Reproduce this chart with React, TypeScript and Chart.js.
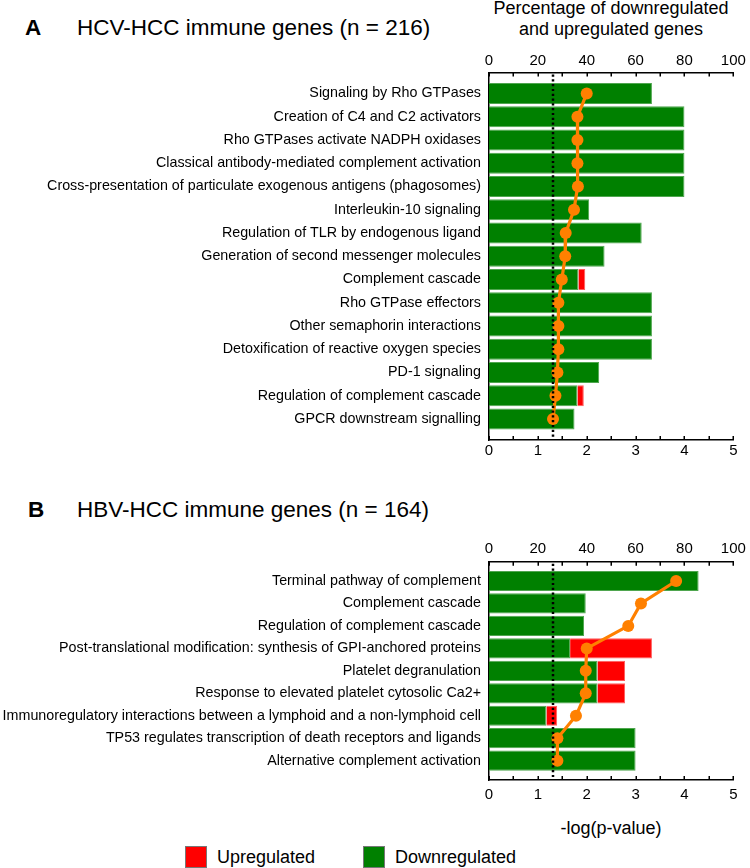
import React, { useEffect, useRef } from 'react';
import { Chart, registerables } from 'chart.js';

Chart.register(...registerables);

const FONT = '"Liberation Sans", Arial, Helvetica, sans-serif';
const GREEN = '#008000';
const GREEN_EDGE = '#4fa64f';
const RED = '#ff0000';
const RED_EDGE = '#ff5c5c';
const ORANGE = '#ff8000';

// Panel A: HCV-HCC immune genes
const hcvPathways = [
  'Signaling by Rho GTPases',
  'Creation of C4 and C2 activators',
  'Rho GTPases activate NADPH oxidases',
  'Classical antibody-mediated complement activation',
  'Cross-presentation of particulate exogenous antigens (phagosomes)',
  'Interleukin-10 signaling',
  'Regulation of TLR by endogenous ligand',
  'Generation of second messenger molecules',
  'Complement cascade',
  'Rho GTPase effectors',
  'Other semaphorin interactions',
  'Detoxification of reactive oxygen species',
  'PD-1 signaling',
  'Regulation of complement cascade',
  'GPCR downstream signalling',
];
const hcvDown = [66.7, 80, 80, 80, 80, 41.0, 62.5, 47.3, 36.6, 66.7, 66.7, 66.7, 45.1, 36.2, 35.0];
const hcvUp = [0, 0, 0, 0, 0, 0, 0, 0, 2.8, 0, 0, 0, 0, 2.6, 0];
const hcvLogP = [2.0, 1.81, 1.81, 1.81, 1.82, 1.74, 1.57, 1.56, 1.49, 1.42, 1.42, 1.42, 1.4, 1.36, 1.31];

// Panel B: HBV-HCC immune genes
const hbvPathways = [
  'Terminal pathway of complement',
  'Complement cascade',
  'Regulation of complement cascade',
  'Post-translational modification: synthesis of GPI-anchored proteins',
  'Platelet degranulation',
  'Response to elevated platelet cytosolic Ca2+',
  'Immunoregulatory interactions between a lymphoid and a non-lymphoid cell',
  'TP53 regulates transcription of death receptors and ligands',
  'Alternative complement activation',
];
const hbvDown = [85.8, 39.6, 38.9, 33.2, 44.4, 44.4, 23.5, 60, 60];
const hbvUp = [0, 0, 0, 33.5, 11.3, 11.3, 4.4, 0, 0];
const hbvLogP = [3.83, 3.11, 2.85, 2.0, 1.98, 1.98, 1.78, 1.4, 1.4];

const percentTickStep = 20;
const percentMinorStep = 10;
const logTickStep = 1;
const logMinorStep = 0.5;
const significanceLine = 1.3;

type PanelOpts = {
  labels: string[];
  down: number[];
  up: number[];
  logp: number[];
  yMin: number;
  yMax: number;
  topH: number;
  bottomH: number;
  topPad: number;
  bottomPad: number;
};

const decorPlugin = {
  id: 'decor',
  afterDatasetsDraw(chart: any) {
    const { ctx, chartArea, scales } = chart;
    const x = scales.x.getPixelForValue(significanceLine);
    ctx.save();
    ctx.strokeStyle = '#000';
    ctx.lineWidth = 2.5;
    ctx.setLineDash([2.2, 2.6]);
    ctx.beginPath();
    ctx.moveTo(Math.round(x), chartArea.top + 2);
    ctx.lineTo(Math.round(x), chartArea.bottom - 1);
    ctx.stroke();
    ctx.restore();
  },
  afterDraw(chart: any) {
    const { ctx, chartArea, scales } = chart;
    ctx.save();
    ctx.strokeStyle = '#000';
    ctx.lineWidth = 1.5;
    ctx.setLineDash([]);
    for (let v = 0; v <= 100.001; v += percentMinorStep) {
      const px = Math.round(scales.x2.getPixelForValue(v)) + 0.25;
      ctx.beginPath();
      ctx.moveTo(px, chartArea.top);
      ctx.lineTo(px, chartArea.top + 4);
      ctx.stroke();
    }
    for (let v = 0; v <= 5.0001; v += logMinorStep) {
      const px = Math.round(scales.x.getPixelForValue(v)) + 0.25;
      ctx.beginPath();
      ctx.moveTo(px, chartArea.bottom);
      ctx.lineTo(px, chartArea.bottom - 4);
      ctx.stroke();
    }
    ctx.restore();
  },
};

function makeConfig(o: PanelOpts): any {
  const downData = o.down.map((v, i) => ({ x: v, y: i }));
  const upData = o.up.map((v, i) => ({ x: v, y: i })).filter((d) => d.x > 0);
  const lineData = o.logp.map((v, i) => ({ x: v, y: i }));
  const tickFont = { family: FONT, size: 15 };
  return {
    type: 'bar',
    data: {
      datasets: [
        {
          type: 'line',
          label: '-log(p-value)',
          data: lineData,
          xAxisID: 'x',
          yAxisID: 'y',
          borderColor: ORANGE,
          backgroundColor: ORANGE,
          pointBackgroundColor: ORANGE,
          pointBorderColor: ORANGE,
          borderWidth: 3.2,
          pointRadius: 6,
          pointBorderWidth: 0,
          order: 0,
        },
        {
          type: 'bar',
          label: 'Downregulated',
          data: downData,
          xAxisID: 'x2',
          yAxisID: 'y',
          backgroundColor: GREEN,
          borderColor: GREEN_EDGE,
          borderWidth: 1,
          barPercentage: 0.9,
          categoryPercentage: 1,
          stack: 's',
          order: 1,
        },
        {
          type: 'bar',
          label: 'Upregulated',
          data: upData,
          xAxisID: 'x2',
          yAxisID: 'y',
          backgroundColor: RED,
          borderColor: RED_EDGE,
          borderWidth: 1,
          barPercentage: 0.9,
          categoryPercentage: 1,
          stack: 's',
          order: 1,
        },
      ],
    },
    options: {
      indexAxis: 'y',
      animation: false,
      responsive: true,
      maintainAspectRatio: false,
      devicePixelRatio: 1,
      layout: { padding: { left: 0, right: 16.7, top: 0, bottom: 0 } },
      plugins: { legend: { display: false }, tooltip: { enabled: false } },
      scales: {
        x: {
          type: 'linear',
          position: 'bottom',
          min: 0,
          max: 5,
          ticks: { stepSize: logTickStep, font: tickFont, color: '#000', padding: o.bottomPad },
          grid: { display: false, drawTicks: false },
          border: { display: true, color: '#000', width: 1.5 },
          afterFit: (s: any) => {
            s.height = o.bottomH;
          },
        },
        x2: {
          type: 'linear',
          position: 'top',
          min: 0,
          max: 100,
          stacked: true,
          ticks: { stepSize: percentTickStep, font: tickFont, color: '#000', padding: o.topPad },
          grid: { display: false, drawTicks: false },
          border: { display: true, color: '#000', width: 1.5 },
          afterFit: (s: any) => {
            s.height = o.topH;
          },
        },
        y: {
          type: 'linear',
          reverse: true,
          offset: false,
          min: o.yMin,
          max: o.yMax,
          stacked: true,
          afterBuildTicks: (s: any) => {
            s.ticks = o.labels.map((_, i) => ({ value: i }));
          },
          ticks: {
            autoSkip: false,
            font: { family: FONT, size: 14.3 },
            color: '#000',
            padding: 8,
            callback: (v: any) => o.labels[Math.round(Number(v))] ?? '',
          },
          grid: { display: false, drawTicks: false, offset: false },
          border: { display: true, color: '#000', width: 1.5 },
          afterFit: (s: any) => {
            s.width = 489;
          },
        },
      },
    },
    plugins: [decorPlugin],
  };
}

function Panel({ opts, top, height }: { opts: PanelOpts; top: number; height: number }) {
  const ref = useRef<HTMLCanvasElement>(null);
  useEffect(() => {
    const chart = new Chart(ref.current as HTMLCanvasElement, makeConfig(opts));
    return () => chart.destroy();
  }, []);
  return (
    <div style={{ position: 'absolute', left: 0, top, width: 750, height }}>
      <canvas ref={ref} />
    </div>
  );
}

const abs = (s: React.CSSProperties): React.CSSProperties => ({ position: 'absolute', whiteSpace: 'nowrap', ...s });

export default function App() {
  return (
    <div
      style={{
        position: 'absolute',
        left: 0,
        top: 0,
        width: 750,
        height: 868,
        background: '#fff',
        fontFamily: FONT,
        color: '#000',
        overflow: 'hidden',
      }}
    >
      <div style={abs({ left: 25, top: 17, fontSize: 22.5, lineHeight: '22px', fontWeight: 'bold' })}>A</div>
      <div style={abs({ left: 77, top: 17, fontSize: 22.5, lineHeight: '22px' })}>HCV-HCC immune genes (n = 216)</div>
      <div
        style={abs({
          left: 488.7,
          top: -2,
          width: 244.6,
          textAlign: 'center',
          fontSize: 18,
          lineHeight: '20.5px',
        })}
      >
        Percentage of downregulated
        <br />
        and upregulated genes
      </div>
      <Panel
        top={40}
        height={430}
        opts={{
          labels: hcvPathways,
          down: hcvDown,
          up: hcvUp,
          logp: hcvLogP,
          yMin: -0.9,
          yMax: 14.9,
          topH: 32.5,
          bottomH: 30,
          topPad: 3,
          bottomPad: 2,
        }}
      />
      <div style={abs({ left: 28, top: 499, fontSize: 22.5, lineHeight: '22px', fontWeight: 'bold' })}>B</div>
      <div style={abs({ left: 77, top: 499, fontSize: 22.5, lineHeight: '22px' })}>HBV-HCC immune genes (n = 164)</div>
      <Panel
        top={530}
        height={280}
        opts={{
          labels: hbvPathways,
          down: hbvDown,
          up: hbvUp,
          logp: hbvLogP,
          yMin: -0.86,
          yMax: 8.86,
          topH: 31.7,
          bottomH: 30,
          topPad: 4,
          bottomPad: 6,
        }}
      />
      <div style={abs({ left: 488.7, top: 818, width: 244.6, textAlign: 'center', fontSize: 18, lineHeight: '20px' })}>
        -log(p-value)
      </div>
      <div style={abs({ left: 185, top: 846, width: 20, height: 20, background: RED, border: '1px solid #777' })} />
      <div style={abs({ left: 217, top: 847, fontSize: 18, lineHeight: '20px' })}>Upregulated</div>
      <div style={abs({ left: 363, top: 846, width: 20, height: 20, background: GREEN, border: '1px solid #777' })} />
      <div style={abs({ left: 395, top: 847, fontSize: 18, lineHeight: '20px' })}>Downregulated</div>
    </div>
  );
}
